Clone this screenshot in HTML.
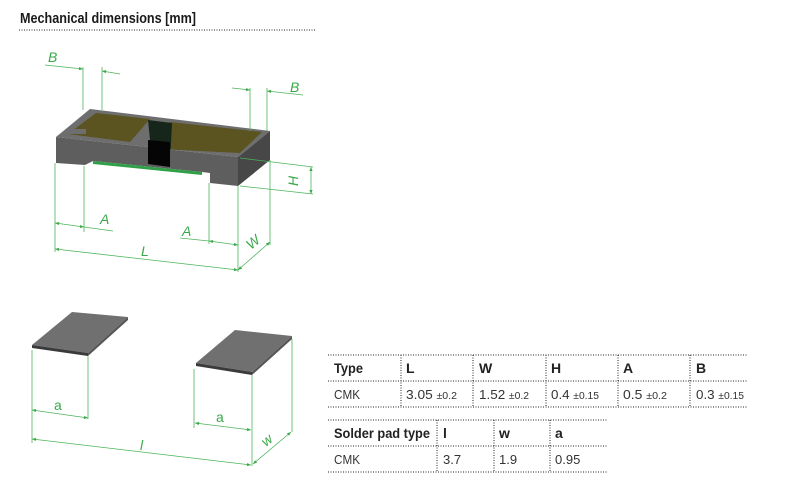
<!DOCTYPE html>
<html><head><meta charset="utf-8"><style>
html,body{margin:0;padding:0;background:#fff;width:790px;height:494px;overflow:hidden}
svg{display:block}
text{font-family:"Liberation Sans",sans-serif}
.g{stroke:#4cb45a;stroke-width:0.8;fill:none}
.gl{fill:#3aa84a;font-family:"Liberation Sans",sans-serif;font-size:14px;font-style:italic}
.d{stroke:#222;stroke-width:1;stroke-dasharray:1 1.5}
.h{font-weight:bold;font-size:14px;fill:#222}
.c{font-size:13px;fill:#333}
.s{font-size:10px;fill:#333}
</style></head><body>
<svg width="790" height="494" viewBox="0 0 790 494" xmlns="http://www.w3.org/2000/svg">
<defs>
<marker id="a" viewBox="0 0 10 10" refX="10" refY="5" markerWidth="7" markerHeight="5" orient="auto-start-reverse"><path d="M0,1 L10,5 L0,9 z" fill="#3aa84a"/></marker>
</defs>
<text x="20" y="23" font-weight="bold" font-size="15" fill="#1a1a1a" textLength="176" lengthAdjust="spacingAndGlyphs">Mechanical dimensions [mm]</text>
<line x1="19" y1="30" x2="316" y2="30" class="d"/>

<!-- component -->
<polygon points="56,137 90,109 270,131 238,157" fill="#6e6e6e"/>
<polygon points="68,134 96,113 150,119 130,142" fill="#5b5320"/>
<polygon points="170,122 262,132 240,153 160,149" fill="#5b5320"/>
<polygon points="66,129 86,129 86,134 66,134" fill="#6e6e6e"/>
<polygon points="148,120 172,123 170,165 148,163 150,140" fill="#17261a"/>
<polygon points="56,137 238,157 238,186 210,183 210,173 202,172 93,161 85,165 56,163" fill="#5e5e5e"/>
<polygon points="93,161 202,172 202,175 93,164" fill="#2fa048"/>
<polygon points="148,140 170,142 170,167 148,164" fill="#050505"/>
<polygon points="238,157 270,131 270,160 238,186" fill="#474747"/>

<!-- dims top -->
<g class="g">
<line x1="83" y1="67" x2="83" y2="110"/><line x1="102" y1="67" x2="102" y2="110"/>
<line x1="45" y1="65" x2="83" y2="69" marker-end="url(#a)"/><line x1="120" y1="74" x2="102" y2="71" marker-end="url(#a)"/>
<line x1="250" y1="88" x2="250" y2="131"/><line x1="267" y1="88" x2="267" y2="131"/>
<line x1="232" y1="88" x2="250" y2="90" marker-end="url(#a)"/><line x1="303" y1="95" x2="267" y2="91" marker-end="url(#a)"/>
<line x1="240" y1="158" x2="313" y2="167"/><line x1="240" y1="186" x2="313" y2="194"/>
<line x1="311" y1="167" x2="311" y2="194" marker-start="url(#a)" marker-end="url(#a)"/>
<line x1="55" y1="163" x2="55" y2="252"/><line x1="84" y1="166" x2="84" y2="232"/>
<line x1="55" y1="223" x2="84" y2="227" marker-start="url(#a)" marker-end="url(#a)"/><line x1="84" y1="227" x2="113" y2="231"/>
<line x1="209" y1="183" x2="209" y2="244"/><line x1="238" y1="186" x2="238" y2="272"/>
<line x1="180" y1="238" x2="209" y2="241"/><line x1="209" y1="241" x2="238" y2="245" marker-start="url(#a)" marker-end="url(#a)"/>
<line x1="55" y1="249" x2="238" y2="270" marker-start="url(#a)" marker-end="url(#a)"/>
<line x1="270" y1="160" x2="270" y2="245"/>
<line x1="238" y1="270" x2="270" y2="242" marker-start="url(#a)" marker-end="url(#a)"/>
</g>
<text class="gl" x="48" y="62">B</text>
<text class="gl" x="290" y="92">B</text>
<text class="gl" x="100" y="224">A</text>
<text class="gl" x="182" y="236">A</text>
<text class="gl" x="141" y="256">L</text>
<text class="gl" transform="translate(298,186) rotate(-90)">H</text>
<text class="gl" transform="translate(251,250) rotate(-40)">W</text>

<!-- pads -->
<polygon points="32,345 72,312 128,317 88,353" fill="#707070"/>
<polygon points="32,345 88,353 88,356 32,348" fill="#3a3a3a"/>
<polygon points="88,353 128,317 128,320 88,356" fill="#555"/>
<polygon points="196,363 235,330 292,336 252,372" fill="#707070"/>
<polygon points="196,363 252,372 252,375 196,366" fill="#3a3a3a"/>
<polygon points="252,372 292,336 292,339 252,375" fill="#555"/>
<g class="g">
<line x1="32" y1="350" x2="32" y2="443"/><line x1="88" y1="356" x2="88" y2="419"/>
<line x1="32" y1="410" x2="88" y2="418" marker-start="url(#a)" marker-end="url(#a)"/>
<line x1="194" y1="369" x2="194" y2="428"/><line x1="252" y1="375" x2="252" y2="466"/><line x1="292" y1="339" x2="292" y2="432"/>
<line x1="195" y1="423" x2="251" y2="430" marker-start="url(#a)" marker-end="url(#a)"/>
<line x1="32" y1="439" x2="251" y2="465" marker-start="url(#a)" marker-end="url(#a)"/>
<line x1="253" y1="464" x2="291" y2="432" marker-start="url(#a)" marker-end="url(#a)"/>
</g>
<text class="gl" x="54" y="410" style="font-style:normal">a</text>
<text class="gl" x="216" y="422" style="font-style:normal">a</text>
<text class="gl" x="140" y="450">l</text>
<text class="gl" transform="translate(266,447) rotate(-40)">w</text>

<!-- table 1 -->
<line x1="328" y1="355" x2="748" y2="355" class="d"/>
<line x1="328" y1="381" x2="748" y2="381" class="d"/>
<line x1="328" y1="407" x2="748" y2="407" class="d"/>
<g class="d"><line x1="401" y1="355" x2="401" y2="407"/><line x1="473" y1="355" x2="473" y2="407"/><line x1="546" y1="355" x2="546" y2="407"/><line x1="618" y1="355" x2="618" y2="407"/><line x1="690" y1="355" x2="690" y2="407"/></g>
<text class="h" x="334" y="373" textLength="29" lengthAdjust="spacingAndGlyphs">Type</text><text class="h" x="406" y="373">L</text><text class="h" x="479" y="373">W</text><text class="h" x="551" y="373">H</text><text class="h" x="623" y="373">A</text><text class="h" x="696" y="373">B</text>
<text class="c" x="334" y="399" textLength="26" lengthAdjust="spacingAndGlyphs">CMK</text>
<text class="c" x="406" y="399" textLength="51" lengthAdjust="spacingAndGlyphs">3.05 <tspan class="s">±0.2</tspan></text>
<text class="c" x="479" y="399" textLength="50" lengthAdjust="spacingAndGlyphs">1.52 <tspan class="s">±0.2</tspan></text>
<text class="c" x="551" y="399" textLength="48" lengthAdjust="spacingAndGlyphs">0.4 <tspan class="s">±0.15</tspan></text>
<text class="c" x="623" y="399" textLength="44" lengthAdjust="spacingAndGlyphs">0.5 <tspan class="s">±0.2</tspan></text>
<text class="c" x="696" y="399" textLength="48" lengthAdjust="spacingAndGlyphs">0.3 <tspan class="s">±0.15</tspan></text>
<!-- table 2 -->
<line x1="328" y1="420" x2="607" y2="420" class="d"/>
<line x1="328" y1="446" x2="607" y2="446" class="d"/>
<line x1="328" y1="472" x2="607" y2="472" class="d"/>
<g class="d"><line x1="437" y1="420" x2="437" y2="472"/><line x1="494" y1="420" x2="494" y2="472"/><line x1="550" y1="420" x2="550" y2="472"/></g>
<text class="h" x="334" y="438" textLength="96" lengthAdjust="spacingAndGlyphs">Solder pad type</text><text class="h" x="443" y="438">l</text><text class="h" x="499" y="438">w</text><text class="h" x="555" y="438">a</text>
<text class="c" x="334" y="464" textLength="26" lengthAdjust="spacingAndGlyphs">CMK</text><text class="c" x="443" y="464">3.7</text><text class="c" x="499" y="464">1.9</text><text class="c" x="555" y="464">0.95</text>
</svg>
</body></html>
